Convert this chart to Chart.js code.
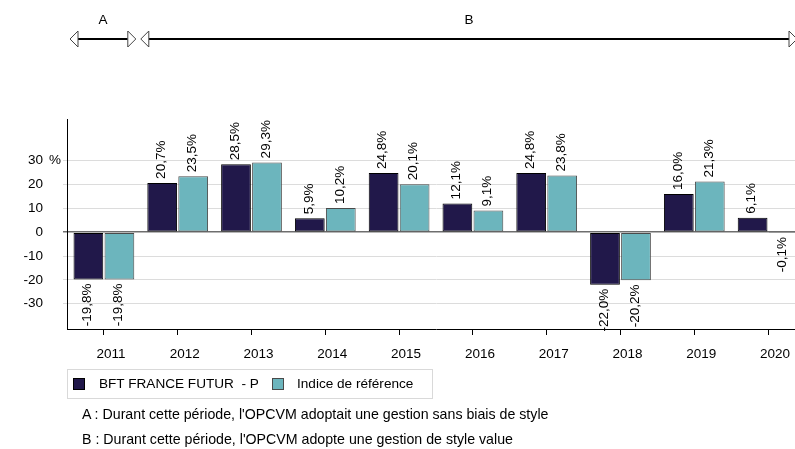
<!DOCTYPE html>
<html>
<head>
<meta charset="utf-8">
<script src="https://cdn.jsdelivr.net/npm/chart.js@4/dist/chart.umd.min.js"></script>
<style>
  html, body { margin: 0; padding: 0; background: #fff; overflow: hidden; }
  #wrap { position: relative; width: 812px; height: 449px; font-family: Arial, "Liberation Sans", sans-serif; }
  canvas { position: absolute; left: 0; top: 0; }
  #legend { position: absolute; left: 67px; top: 369px; width: 366px; height: 30px; border: 1px solid #d9d9d9; box-sizing: border-box; }
  .lg-box { position: absolute; top: 8px; width: 12px; height: 12px; box-sizing: border-box; }
  .lg-txt { position: absolute; top: 6px; font-size: 13.6px; line-height: 16px; color: #000; white-space: pre; }
  .note { position: absolute; left: 82px; font-size: 14.2px; line-height: 16px; color: #000; white-space: pre; }
</style>
</head>
<body>
<div id="wrap">
  <canvas id="c" width="812" height="449"></canvas>
  <div id="legend"></div>
  <div class="note" id="n0" style="top:406px"></div>
  <div class="note" id="n1" style="top:431px"></div>
</div>
<script>
// ---- data ----
const categories = ['2011','2012','2013','2014','2015','2016','2017','2018','2019','2020'];
const seriesNames = ['BFT FRANCE FUTUR  - P', 'Indice de référence'];
const fundValues  = [-19.8, 20.7, 28.5, 5.9, 24.8, 12.1, 24.8, -22.0, 16.0, 6.1];
const indexValues = [-19.8, 23.5, 29.3, 10.2, 20.1, 9.1, 23.8, -20.2, 21.3, -0.1];
const yTickValues = [-30, -20, -10, 0, 10, 20, 30];
const periodLabels = ['A', 'B'];
const periodFirst = [0, 1];
const periodLast  = [0, 9];
const notes = [
  "A : Durant cette période, l'OPCVM adoptait une gestion sans biais de style",
  "B : Durant cette période, l'OPCVM adopte une gestion de style value"
];

const COLORS = ['#21184a', '#6cb5bd'];
const BORDERS = ['#000000', '#4a4a4a'];
const FONT = 'Arial, "Liberation Sans", sans-serif';
const FS = 13.5;

// legend (HTML, built from series names)
const lg = document.getElementById('legend');
const boxX = [5, 204], txtX = [31, 229];
seriesNames.forEach((n, i) => {
  const b = document.createElement('div');
  b.className = 'lg-box';
  b.style.left = boxX[i] + 'px';
  b.style.background = COLORS[i];
  b.style.border = '1px solid ' + BORDERS[i];
  lg.appendChild(b);
  const t = document.createElement('div');
  t.className = 'lg-txt';
  t.style.left = txtX[i] + 'px';
  t.textContent = n;
  lg.appendChild(t);
});
document.getElementById('n0').textContent = notes[0];
document.getElementById('n1').textContent = notes[1];

const fmt = v => v.toFixed(1).replace('.', ',') + '%';

const labelPlugin = {
  id: 'barLabels',
  afterDatasetsDraw(chart) {
    const ctx = chart.ctx;
    ctx.save();
    ctx.font = FS + 'px ' + FONT;
    ctx.fillStyle = '#000';
    ctx.textBaseline = 'middle';
    chart.data.datasets.forEach((ds, di) => {
      const meta = chart.getDatasetMeta(di);
      meta.data.forEach((bar, i) => {
        const v = ds.data[i];
        const top = Math.min(bar.y, bar.base);
        const bot = Math.max(bar.y, bar.base);
        ctx.save();
        if (v >= 0) {
          ctx.translate(bar.x - 1, top - 4);
          ctx.rotate(-Math.PI / 2);
          ctx.textAlign = 'left';
        } else {
          ctx.translate(bar.x - 1, bot + 4);
          ctx.rotate(-Math.PI / 2);
          ctx.textAlign = 'right';
        }
        ctx.fillText(fmt(v), 0, 0);
        ctx.restore();
      });
    });
    ctx.restore();
  }
};

const extrasPlugin = {
  id: 'extras',
  afterDraw(chart) {
    const ctx = chart.ctx;
    const xs = chart.scales.x, ys = chart.scales.y;
    const ca = chart.chartArea;
    ctx.save();
    // percent sign after top tick
    ctx.font = FS + 'px ' + FONT;
    ctx.fillStyle = '#000';
    ctx.textAlign = 'left';
    ctx.textBaseline = 'middle';
    ctx.fillText('%', 49, ys.getPixelForValue(yTickValues[yTickValues.length - 1]));

    // period arrows
    const half = (xs.getPixelForValue(1) - xs.getPixelForValue(0)) / 2;
    const yA = 39;
    const head = (tipX, dir) => {
      ctx.beginPath();
      ctx.moveTo(tipX, yA);
      ctx.lineTo(tipX + dir * 8, yA - 8);
      ctx.lineTo(tipX + dir * 8, yA + 8);
      ctx.closePath();
      ctx.fillStyle = '#fff';
      ctx.fill();
      ctx.strokeStyle = '#444';
      ctx.lineWidth = 1;
      ctx.stroke();
    };
    periodLabels.forEach((lab, k) => {
      let x0 = xs.getPixelForValue(periodFirst[k]) - half;
      let x1 = xs.getPixelForValue(periodLast[k]) + half;
      x0 = Math.max(x0, ca.left) + (k === 0 ? 3 : 0);
      x1 = Math.min(x1, ca.right) - (k === 0 ? 5 : 8);
      ctx.beginPath();
      ctx.moveTo(x0 + 8, yA);
      ctx.lineTo(x1 - 8, yA);
      ctx.strokeStyle = '#000';
      ctx.lineWidth = 2;
      ctx.stroke();
      head(x0, 1);
      head(x1, -1);
      ctx.fillStyle = '#000';
      ctx.font = FS + 'px ' + FONT;
      ctx.textAlign = 'center';
      ctx.textBaseline = 'middle';
      ctx.fillText(lab, (x0 + x1) / 2, 20);
    });
    ctx.restore();
  }
};

new Chart(document.getElementById('c'), {
  type: 'bar',
  data: {
    labels: categories,
    datasets: [
      { label: seriesNames[0], data: fundValues, backgroundColor: COLORS[0], borderColor: BORDERS[0], borderWidth: 1, borderSkipped: false, categoryPercentage: 0.84, barPercentage: 0.96 },
      { label: seriesNames[1], data: indexValues, backgroundColor: COLORS[1], borderColor: BORDERS[1], borderWidth: 1, borderSkipped: false, categoryPercentage: 0.84, barPercentage: 0.96 }
    ]
  },
  options: {
    responsive: false,
    animation: false,
    devicePixelRatio: 1,
    layout: { padding: { top: 119, right: 7, bottom: 90, left: 0 } },
    plugins: { legend: { display: false }, tooltip: { enabled: false } },
    scales: {
      x: {
        offset: true,
        grid: { display: true, drawOnChartArea: false, drawTicks: true, tickLength: 6, color: '#000', offset: false },
        border: { display: true, color: '#000', width: 1 },
        ticks: { font: { family: FONT, size: FS }, color: '#000', padding: 11, labelOffset: 7, maxRotation: 0, autoSkip: false },
        afterFit(s) { s.height = 30; }
      },
      y: {
        min: -40.6,
        max: 47.5,
        afterBuildTicks(s) { s.ticks = yTickValues.map(v => ({ value: v })); },
        grid: {
          color: c => (c.tick && c.tick.value === 0) ? '#6e6e6e' : '#dcdcdc',
          lineWidth: c => (c.tick && c.tick.value === 0) ? 1.5 : 1,
          tickLength: 4
        },
        border: { display: true, color: '#000', width: 1 },
        ticks: { font: { family: FONT, size: FS }, color: '#000', padding: 20, callback: v => String(v) },
        afterFit(s) { s.width = 67; }
      }
    }
  },
  plugins: [labelPlugin, extrasPlugin]
});
</script>
</body>
</html>
